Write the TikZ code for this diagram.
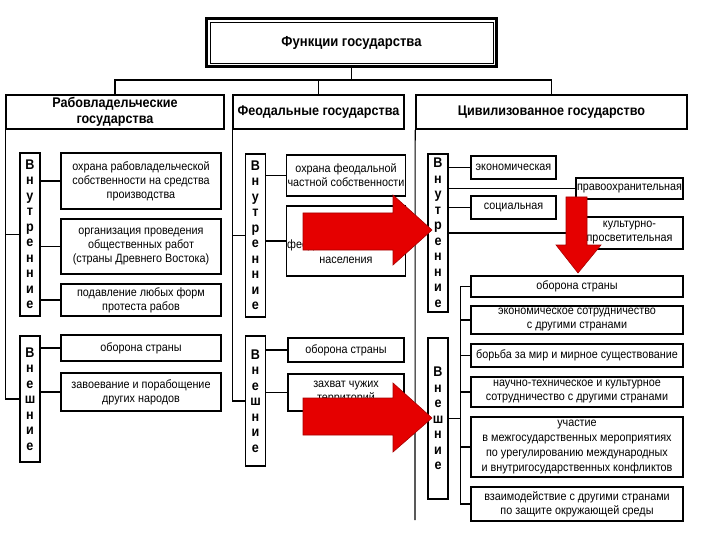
\documentclass[tikz,border=0pt]{standalone}
\usepackage{fontspec}
\setmainfont{Liberation Sans}[FakeStretch=0.9]
\usepackage{tikz}
\usetikzlibrary{positioning}

\begin{document}
\begin{tikzpicture}[
        x=1pt, y=-1pt,
        box/.style={draw, line width=1.2pt, align=center, inner sep=1pt, font=\fontsize{12}{14}\selectfont},
        head/.style={draw, line width=1.6pt, align=center, inner sep=1pt, minimum height=34pt, font=\bfseries\fontsize{14}{15.5}\selectfont},
        vbox/.style={draw, line width=1.2pt, align=center, inner sep=0pt, minimum width=20pt, font=\bfseries\fontsize{14}{15.5}\selectfont},
        link/.style={line width=1.1pt},
        bigarrow/.style={fill=red!90!black, draw=red!65!black, line width=0.6pt}
    ]

    \useasboundingbox (0,0) rectangle (720,540);

    % Vertical labels
    \def\vin{В\\н\\у\\т\\р\\е\\н\\н\\и\\е}
    \def\vex{В\\н\\е\\ш\\н\\и\\е}
    \def\gap{10} % Bracket offset in the right column

    % Title and the three kinds of state
    \node[draw, line width=3pt, minimum width=290pt, minimum height=48pt,
          font=\bfseries\fontsize{14.5}{16}\selectfont] (title) at (351.5,42.5) {Функции государства};
    \draw[line width=0.8pt] ([shift={(5,5)}]title.north west) rectangle ([shift={(-5,-5)}]title.south east);

    \node[head, minimum width=218pt] (lh) at (115,112) {Рабовладельческие\\государства};
    \node[head, minimum width=171pt] (mh) at (318.5,112) {Феодальные государства};
    \node[head, minimum width=271pt] (rh) at (551.5,112) {Цивилизованное государство};

    % Left column (slave-owning states)
    \node[vbox, minimum height=163pt] (lint) at (30,234.5) {\vin};
    \node[vbox, minimum height=126pt] (lext) at (30,399) {\vex};

    \node[box, minimum width=160pt, minimum height=56pt] (lr1) at (141,181) {охрана рабовладельческой\\собственности на средства\\производства};
    \node[box, minimum width=160pt, minimum height=55pt] (lr2) at (141,246.5) {организация проведения\\общественных работ\\(страны Древнего Востока)};
    \node[box, minimum width=160pt, minimum height=32pt] (lr3) at (141,300) {подавление любых форм\\протеста рабов};
    \node[box, minimum width=160pt, minimum height=26pt] (lv1) at (141,348) {оборона страны};
    \node[box, minimum width=160pt, minimum height=38pt] (lv2) at (141,392) {завоевание и порабощение\\других народов};

    % Middle column (feudal states)
    \node[vbox, minimum height=163pt] (mint) at (255.5,235.5) {\vin};
    \node[vbox, minimum height=130pt] (mext) at (255.5,401) {\vex};

    \node[box, minimum width=116pt, minimum height=41pt] (mr1) at (346,175.5) {охрана феодальной\\частной собственности};
    \node[box, minimum width=116pt, minimum height=70pt, font=\fontsize{12}{15}\selectfont] (mr2) at (346,241) {\mbox{}\\\mbox{}\\феодально-зависимого\\населения};
    \node[box, minimum width=116pt, minimum height=24pt] (mv1) at (346,350) {оборона страны};
    \node[box, minimum width=116pt, minimum height=37pt] (mv2) at (346,392.5) {захват чужих\\территорий};

    % Right column (civilised state)
    \node[vbox, minimum height=158pt] (rint) at (438,233) {\vin};
    \node[vbox, minimum height=161pt] (rext) at (438,418.5) {\vex};

    \node[box, minimum width=85pt, minimum height=23pt] (re1) at (513.5,167.5) {экономическая};
    \node[box, minimum width=107pt, minimum height=21pt] (re2) at (629.5,188.5) {правоохранительная};
    \node[box, minimum width=85pt, minimum height=23pt] (re3) at (513.5,207.5) {социальная};
    \node[box, minimum width=107pt, minimum height=32pt] (re4) at (629.5,233) {культурно-\\просветительная};

    \node[box, minimum width=212pt, minimum height=21pt] (rv1) at (577,286.5) {оборона страны};
    \node[box, minimum width=212pt, minimum height=28pt] (rv2) at (577,320) {экономическое сотрудничество\\с другими странами};
    \node[box, minimum width=212pt, minimum height=23pt] (rv3) at (577,355.5) {борьба за мир и мирное существование};
    \node[box, minimum width=212pt, minimum height=30pt] (rv4) at (577,392) {научно-техническое и культурное\\сотрудничество с другими странами};
    \node[box, minimum width=212pt, minimum height=60pt, font=\fontsize{12}{15}\selectfont] (rv5) at (577,447) {участие\\в межгосударственных мероприятиях\\по урегулированию международных\\и внутригосударственных конфликтов};
    \node[box, minimum width=212pt, minimum height=34pt] (rv6) at (577,504) {взаимодействие с другими странами\\по защите окружающей среды};

    % Top tree
    \path (title.south) ++(0,12) coordinate (hub);
    \draw[link] (title.south) -- (hub);
    \draw[link] (lh.north) |- (hub) -| (rh.north);
    \draw[link] (mh.north) -- (mh.north |- hub);

    % Brackets from the headers
    \draw[link] (lh.south west) |- (lext.west);
    \draw[link] (lint.west) -- (lint.west -| lh.west);
    \draw[link] (mh.south west) |- (mext.west);
    \draw[link] (mint.west) -- (mint.west -| mh.west);
    \coordinate (rend) at (415,520);
    \draw[link] (rh.south west) -- (rend);
    \draw[link] (rint.west) -- (rint.west -| rh.west);
    \draw[link] (rext.west) -- (rext.west -| rh.west);

    % Connectors to the function boxes
    \foreach \b in {lr1,lr2,lr3}
        \draw[link] (\b.west) -- (\b.west -| lint.east);
    \foreach \b in {lv1,lv2}
        \draw[link] (\b.west) -- (\b.west -| lext.east);
    \foreach \b in {mr1,mr2}
        \draw[link] (\b.west) -- (\b.west -| mint.east);
    \foreach \b in {mv1,mv2}
        \draw[link] (\b.west) -- (\b.west -| mext.east);
    \foreach \b in {re1,re2,re3,re4}
        \draw[link] (\b.west) -- (\b.west -| rint.east);

    \coordinate (rbr) at ([xshift=-\gap pt]rv1.west);
    \draw[link] (rv1.west) -- (rbr) |- (rv6.west);
    \foreach \b in {rv2,rv3,rv4,rv5}
        \draw[link] (\b.west) -- (\b.west -| rbr);
    \draw[link] (rext.east) -- (rext.east -| rbr);

    % Red arrows on top
    \draw[bigarrow] (303,213) -- (393,213) -- (393,195) -- (432,230) -- (393,265) -- (393,250) -- (303,250) -- cycle;
    \draw[bigarrow] (303,398) -- (393,398) -- (393,383) -- (432,418) -- (393,452) -- (393,435) -- (303,435) -- cycle;
    \draw[bigarrow] (566,197) -- (587,197) -- (587,245) -- (601,245) -- (578,273) -- (556,245) -- (566,245) -- cycle;

\end{tikzpicture}
\end{document}
